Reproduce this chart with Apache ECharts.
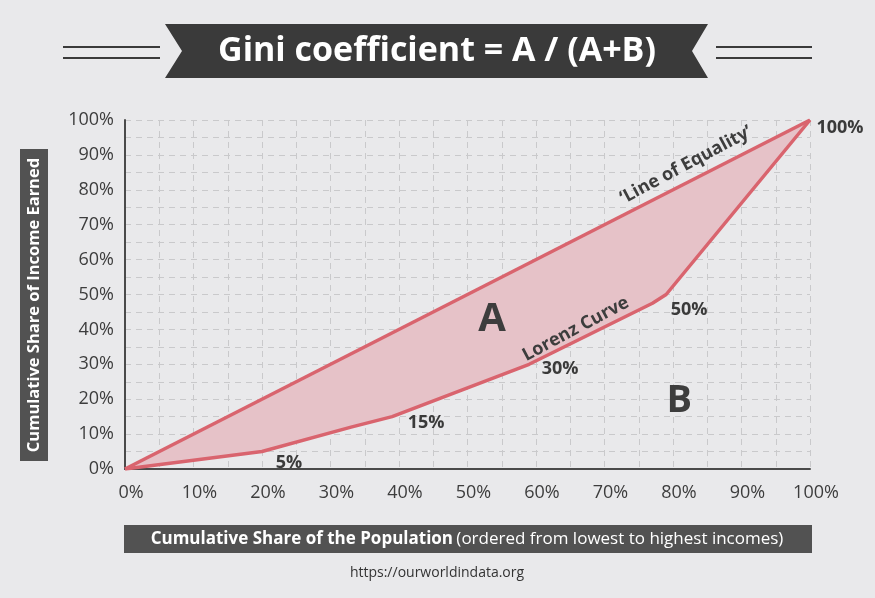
<!DOCTYPE html>
<html>
<head>
<meta charset="utf-8">
<script src="https://cdn.jsdelivr.net/npm/echarts/dist/echarts.min.js"></script>
<style>
  html, body { margin: 0; padding: 0; background: #e9e9eb; }
  #main { width: 875px; height: 598px; }
</style>
</head>
<body>
<div id="main"></div>
<script>
// data (percent of population / percent of income)
var equalityX = [0, 100];
var equalityY = [0, 100];
var lorenzX = [0, 20, 33, 39, 59, 77, 79, 100];
var lorenzY = [0, 5, 12, 15, 30, 47.5, 50, 100];
var pointLabels = ['', '5%', '', '15%', '30%', '', '50%', '100%'];
var tickStep = 5;

var lineColor = '#d9646e';
var fillColor = '#e6c2c8';
var textColor = '#3d3d3d';
var font = '"Open Sans", "DejaVu Sans", sans-serif';

var equalityData = equalityX.map(function (x, i) { return [x, equalityY[i]]; });
var lorenzData = lorenzX.map(function (x, i) { return [x, lorenzY[i]]; });
// region A: between line of equality and the Lorenz curve
var areaPoints = equalityData.concat(lorenzData.slice().reverse());

// label nudges, px
var labelOffsets = { '5%': [27, 11], '15%': [34, 6], '30%': [31, 5], '50%': [23, 15], '100%': [30, 8] };
var labelData = [];
lorenzData.forEach(function (p, i) {
  if (!pointLabels[i]) return;
  labelData.push({
    value: p,
    label: { formatter: pointLabels[i], offset: labelOffsets[pointLabels[i]] }
  });
});

var chart = echarts.init(document.getElementById('main'));
chart.setOption({
  backgroundColor: '#e9e9eb',
  animation: false,
  grid: { left: 125, right: 65, top: 120, bottom: 129 },
  xAxis: {
    type: 'value', min: 0, max: 100, interval: tickStep,
    axisLine: { show: true, lineStyle: { color: '#4a4a4a', width: 2 } },
    axisTick: { show: false },
    splitLine: { show: true, lineStyle: { color: '#c9c9cb', type: [6, 5], width: 1 } },
    axisLabel: {
      formatter: function (v) { return v % 10 === 0 ? v + '%' : ''; },
      color: textColor, fontFamily: font, fontSize: 18, margin: 15,
      padding: [0, 0, 0, 12], showMinLabel: true, showMaxLabel: true
    }
  },
  yAxis: {
    type: 'value', min: 0, max: 100, interval: tickStep,
    axisLine: { show: true, lineStyle: { color: '#4a4a4a', width: 2 } },
    axisTick: { show: false },
    splitLine: { show: true, lineStyle: { color: '#c9c9cb', type: [6, 5], width: 1 } },
    axisLabel: {
      formatter: function (v) { return v % 10 === 0 ? v + '%' : ''; },
      color: textColor, fontFamily: font, fontSize: 18, margin: 11
    }
  },
  series: [
    {
      type: 'custom',
      data: [areaPoints[0]],
      z: 1,
      renderItem: function (params, api) {
        var pts = areaPoints.map(function (p) { return api.coord(p); });
        return { type: 'polygon', shape: { points: pts }, style: { fill: fillColor } };
      }
    },
    {
      name: 'Line of Equality', type: 'line', data: equalityData, z: 3,
      symbol: 'none', lineStyle: { color: lineColor, width: 3.5 }
    },
    {
      name: 'Lorenz Curve', type: 'line', data: lorenzData, z: 3,
      symbol: 'none', lineStyle: { color: lineColor, width: 3.5, join: 'round' }
    },
    {
      type: 'scatter', data: labelData, symbolSize: 0, z: 4,
      itemStyle: { opacity: 1 },
      label: {
        show: true, position: 'inside', color: '#3a3a3a', fontFamily: font,
        fontWeight: 'bold', fontSize: 18, opacity: 1
      }
    },
    {
      // area letters and curve names
      type: 'scatter', symbolSize: 0, z: 4,
      itemStyle: { opacity: 1 },
      label: { show: true, position: 'inside', color: '#3d3d3d', fontFamily: font, fontWeight: 'bold', opacity: 1 },
      data: [
        { value: [53.6, 42.7], label: { formatter: 'A', fontSize: 40 } },
        { value: [80.9, 19.5], label: { formatter: 'B', fontSize: 38 } },
        { value: [65.8, 40.1], label: { formatter: 'Lorenz Curve', fontSize: 18, rotate: 28 } },
        { value: [81.9, 87.1], label: { formatter: '\u2018Line of Equality\u2019', fontSize: 18, rotate: 28 } }
      ]
    }
  ],
  graphic: [
    // title banner
    { type: 'polygon', shape: { points: [[165, 24], [708, 24], [692, 51], [708, 78], [165, 78], [182, 51]] },
      style: { fill: '#3a3a3a' } },
    { type: 'text', x: 437, y: 51, style: { text: 'Gini coefficient = A / (A+B)', fill: '#fff',
      font: 'bold 34px ' + font, textAlign: 'center', textVerticalAlign: 'middle' } },
    { type: 'line', shape: { x1: 63, y1: 47, x2: 160, y2: 47 }, style: { stroke: '#3a3a3a', lineWidth: 2 } },
    { type: 'line', shape: { x1: 63, y1: 58, x2: 160, y2: 58 }, style: { stroke: '#3a3a3a', lineWidth: 2 } },
    { type: 'line', shape: { x1: 716, y1: 47, x2: 812, y2: 47 }, style: { stroke: '#3a3a3a', lineWidth: 2 } },
    { type: 'line', shape: { x1: 716, y1: 58, x2: 812, y2: 58 }, style: { stroke: '#3a3a3a', lineWidth: 2 } },
    // y axis name box
    { type: 'rect', shape: { x: 20, y: 149, width: 28, height: 312 }, style: { fill: '#525252' } },
    { type: 'text', x: 34, y: 305, rotation: Math.PI / 2, style: { text: 'Cumulative Share of Income Earned',
      fill: '#fff', font: 'bold 16.5px ' + font, textAlign: 'center', textVerticalAlign: 'middle' } },
    // x axis name box
    { type: 'rect', shape: { x: 124, y: 525, width: 688, height: 28 }, style: { fill: '#525252' } },
    { type: 'text', x: 467, y: 539, style: {
      text: '{b|Cumulative Share of the Population} {n|(ordered from lowest to highest incomes)}',
      textAlign: 'center', textVerticalAlign: 'middle',
      rich: {
        b: { fill: '#fff', font: 'bold 17px ' + font },
        n: { fill: '#fff', font: '17px ' + font }
      } } },
    { type: 'text', x: 437, y: 573, style: { text: 'https://ourworldindata.org', fill: '#333',
      font: '14px ' + font, textAlign: 'center', textVerticalAlign: 'middle' } }
  ]
});
</script>
</body>
</html>
